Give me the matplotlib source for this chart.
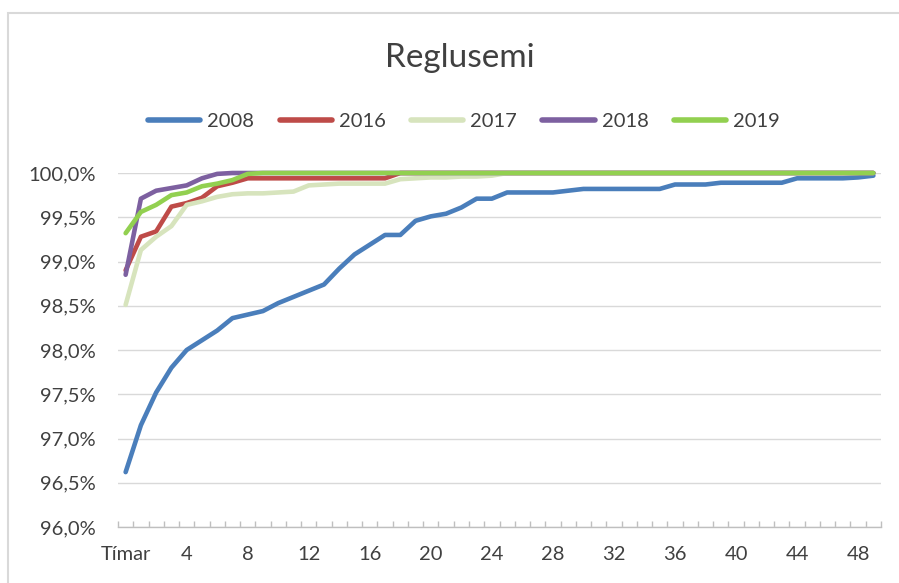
import numpy as np
import matplotlib
matplotlib.use('Agg')
import matplotlib.pyplot as plt
import matplotlib.patches as pch
from matplotlib.ticker import FuncFormatter, FixedLocator

plt.rcParams['font.family'] = ['Lato', 'DejaVu Sans']

""" data """

title = 'Reglusemi'
categories = ['Tímar'] + [str(i) for i in range(1, 50)]
series_names = ['2008', '2016', '2017', '2018', '2019']

y_2008 = [96.62, 97.15, 97.52, 97.80, 98.00, 98.11, 98.22, 98.36, 98.40, 98.44,
          98.53, 98.60, 98.67, 98.74, 98.92, 99.08, 99.19, 99.30, 99.30, 99.46,
          99.51, 99.54, 99.61, 99.71, 99.71, 99.78, 99.78, 99.78, 99.78, 99.80,
          99.82, 99.82, 99.82, 99.82, 99.82, 99.82, 99.87, 99.87, 99.87, 99.89,
          99.89, 99.89, 99.89, 99.89, 99.94, 99.94, 99.94, 99.94, 99.95, 99.97]
y_2016 = [98.90, 99.28, 99.34, 99.62, 99.66, 99.72, 99.85, 99.89, 99.94, 99.94,
          99.94, 99.94, 99.94, 99.94, 99.94, 99.94, 99.94, 99.94, 100.0, 100.0] + [100.0] * 30
y_2017 = [98.51, 99.13, 99.28, 99.40, 99.64, 99.68, 99.73, 99.76, 99.77, 99.77,
          99.78, 99.79, 99.86, 99.87, 99.88, 99.88, 99.88, 99.88, 99.93, 99.94,
          99.95, 99.95, 99.96, 99.96, 99.97, 100.0] + [100.0] * 24
y_2018 = [98.85, 99.71, 99.80, 99.83, 99.86, 99.94, 99.99, 100.0] + [100.0] * 42
y_2019 = [99.32, 99.56, 99.64, 99.75, 99.78, 99.85, 99.88, 99.92, 99.99, 100.0] + [100.0] * 40

series_values = [y_2008, y_2016, y_2017, y_2018, y_2019]
series_colours = ['#4a7ebb', '#be4b48', '#d7e4bd', '#7d60a0', '#92d050']

""" plot """

fig = plt.figure(figsize=(8.99, 5.83), dpi=100)
ax = fig.add_axes([118 / 899, 1 - 527 / 583, (881 - 118) / 899, (527 - 173) / 583])

# chart border
fig.patches.append(pch.Rectangle((8 / 899, -0.1), 1.2, 1 - 13 / 583 + 0.1,
                                 transform=fig.transFigure, fill=False,
                                 edgecolor='#d9d9d9', linewidth=1.5))

x = np.arange(len(categories))
for name, values, colour in zip(series_names, series_values, series_colours):
    ax.plot(x, values, color=colour, linewidth=3.3, label=name,
            solid_capstyle='round', solid_joinstyle='round', clip_on=False, zorder=3)

ax.set_xlim(-0.5, len(categories) - 0.5)
ax.set_ylim(96, 100)

ax.yaxis.set_major_locator(FixedLocator(np.arange(96, 100.01, 0.5)))
ax.yaxis.set_major_formatter(FuncFormatter(lambda v, p: ('%.1f%%' % v).replace('.', ',')))
ax.grid(axis='y', color='#d9d9d9', linewidth=1)
ax.set_axisbelow(True)

tick_idx = list(range(0, len(categories), 4))
ax.set_xticks(tick_idx)
ax.set_xticklabels([categories[i] for i in tick_idx])
ax.xaxis.set_minor_locator(FixedLocator(np.arange(-0.5, len(categories), 1)))
ax.tick_params(axis='x', which='major', length=0, pad=14, labelsize=14.5, labelcolor='#404040')
ax.tick_params(axis='x', which='minor', direction='in', length=4, color='#bfbfbf', width=1)
ax.tick_params(axis='y', length=0, pad=16, labelsize=14.5, labelcolor='#404040')

for s in ['left', 'top', 'right']:
    ax.spines[s].set_visible(False)
ax.spines['bottom'].set_color('#bfbfbf')
ax.spines['bottom'].set_linewidth(1)

fig.text(460 / 899, 1 - 58 / 583, title, ha='center', va='center', fontsize=24, color='#404040')

leg = fig.legend(loc='center', bbox_to_anchor=(464 / 899, 1 - 121 / 583), ncol=5, frameon=False,
                 fontsize=14.5, handlelength=2.6, handletextpad=0.35, columnspacing=1.25,
                 labelcolor='#404040')
for line in leg.get_lines():
    line.set_linewidth(4)
    line.set_solid_capstyle('round')

fig.savefig('out.png', dpi=100)
